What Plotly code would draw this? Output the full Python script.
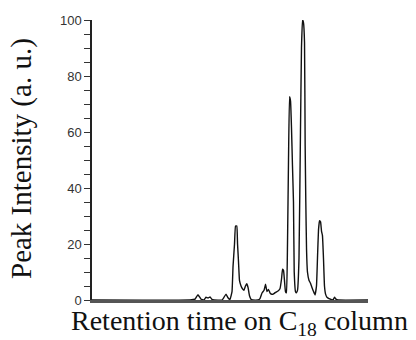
import plotly.graph_objects as go

# Retention time (arbitrary minutes) and peak intensity (a. u.)
time = [0, 10.65, 11.20, 11.52, 11.85, 12.17, 12.39, 12.61, 12.83, 13.04, 13.26,
        14.13, 14.35, 14.57, 14.78, 15.00, 15.22, 15.33, 15.49, 15.60, 15.74,
        15.82, 15.92, 16.03, 16.20, 16.36, 16.52, 16.68, 16.82, 16.96, 17.12,
        17.28, 17.45, 18.04, 18.26, 18.48, 18.70, 18.86, 19.02, 19.18, 19.35,
        19.57, 19.78, 20.00, 20.22, 20.43, 20.60, 20.71, 20.82, 20.92, 21.03,
        21.14, 21.25, 21.36, 21.47, 21.58, 21.68, 21.79, 21.90, 21.98, 22.12,
        22.23, 22.34, 22.50, 22.66, 22.77, 22.88, 22.99, 23.10, 23.17, 23.24,
        23.32, 23.42, 23.59, 23.75, 23.91, 24.08, 24.24, 24.40, 24.51, 24.62,
        24.73, 24.84, 24.95, 25.05, 25.16, 25.27, 25.38, 25.54, 25.76, 25.98,
        26.20, 26.36, 26.52, 26.74, 30.00]
intensity = [0, 0, 0.3, 1.9, 0.3, 0, 1.0, 0.7, 1.1, 0.2, 0,
             0, 1.0, 2.1, 0.8, 0.2, 3, 12, 20, 26.4, 26.4,
             20, 14, 7, 5, 4, 3.5, 5, 5.8, 4.5, 1.5,
             0.3, 0, 0, 0.5, 2.5, 3.5, 5.6, 3, 3.8, 2.5,
             2, 2.3, 2.8, 3.2, 4, 7.5, 11, 10.5, 7, 3,
             2.6, 20, 50, 72.6, 71, 62, 48, 35, 10, 3,
             2.6, 3.5, 15, 60, 90, 100, 99, 92, 55, 35,
             18, 10, 7, 6, 4.5, 3, 1.8, 5, 15, 25,
             28.3, 28, 24.5, 23, 15, 5, 2.2, 1, 0.5, 0.2,
             0, 1.0, 0.3, 0, 0]

y_ticks = [0, 20, 40, 60, 80, 100]
x_title = "Retention time on C<sub>18</sub> column"
y_title = "Peak Intensity (a. u.)"

fig = go.Figure()
fig.add_trace(go.Scatter(x=time, y=intensity, mode="lines",
                         line=dict(color="#111111", width=1.4, shape="spline", smoothing=0.3),
                         showlegend=False))

fig.update_layout(
    width=416, height=340,
    margin=dict(l=92, r=48, t=20, b=40),
    paper_bgcolor="white", plot_bgcolor="white",
    xaxis=dict(range=[0, 30], showgrid=False, zeroline=False, showticklabels=False,
               ticks="", showline=True, linecolor="#555555", linewidth=2.5),
    yaxis=dict(range=[0, 100], showgrid=False, zeroline=False,
               tickvals=y_ticks, ticks="outside", ticklen=6, tickwidth=1, tickcolor="#333333",
               minor=dict(dtick=5, ticks="outside", ticklen=6, tickwidth=1, tickcolor="#333333"),
               showline=True, linecolor="#222222", linewidth=1.5,
               tickfont=dict(family="Liberation Sans", size=13, color="#333333")),
    annotations=[
        dict(text=x_title, xref="paper", yref="paper", x=0.536, y=-0.079,
             xanchor="center", yanchor="middle", showarrow=False,
             font=dict(family="Liberation Serif", size=28, color="#111111")),
        dict(text=y_title, xref="paper", yref="paper", x=-0.2536, y=0.5036,
             xanchor="center", yanchor="middle", textangle=-90, showarrow=False,
             font=dict(family="Liberation Serif", size=29, color="#111111")),
    ],
)

fig.write_html("out.html")
